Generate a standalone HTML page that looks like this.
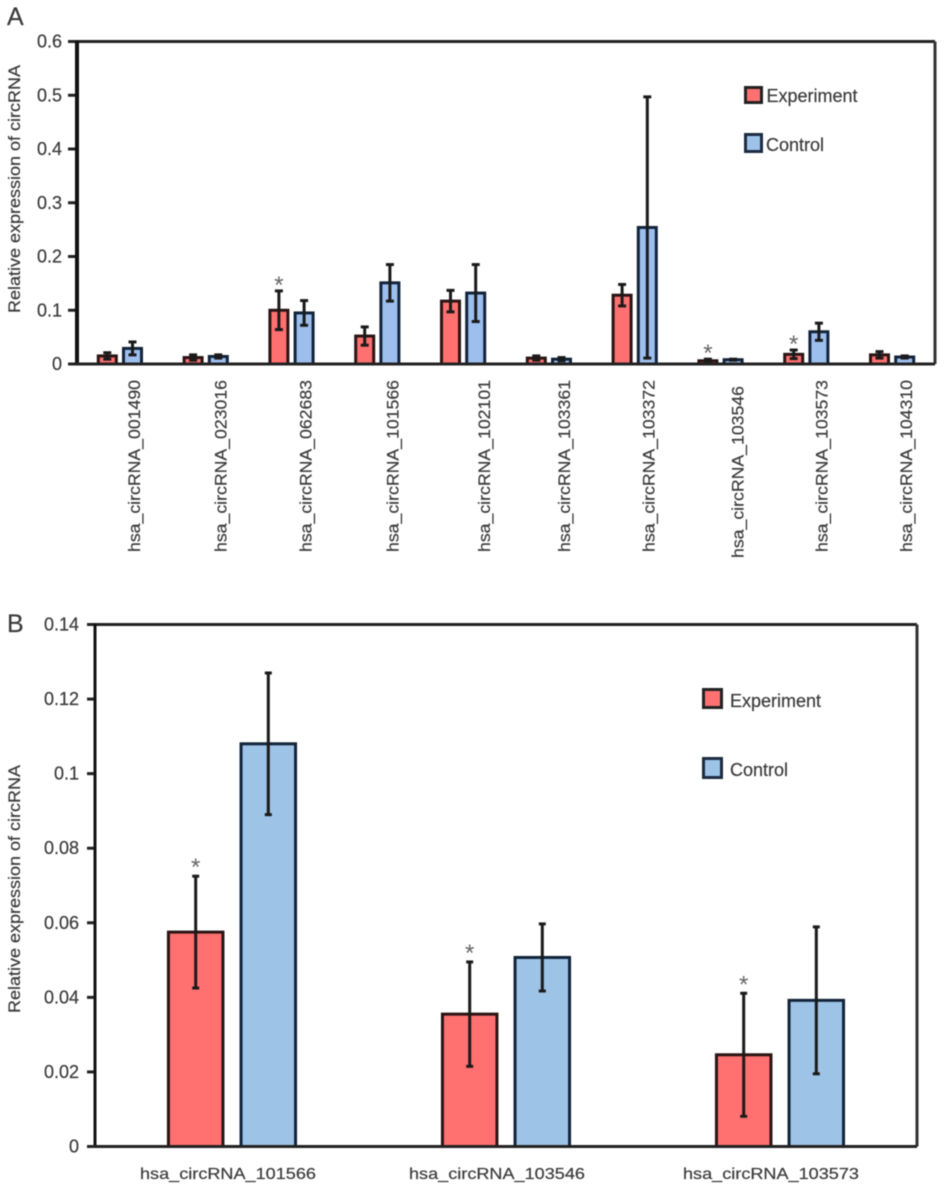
<!DOCTYPE html>
<html lang="en">
<head>
<meta charset="utf-8">
<title>Relative expression of circRNA</title>
<style>
html,body{margin:0;padding:0;background:#fff;width:945px;height:1191px;overflow:hidden}
svg{display:block;filter:blur(.55px)}
text{font-family:"Liberation Sans",sans-serif;fill:#3a3a3a;stroke:#3a3a3a;stroke-width:.2px}
</style>
</head>
<body>
<svg id="figure" xmlns="http://www.w3.org/2000/svg" width="945" height="1191" viewBox="0 0 945 1191">
  <text x="7" y="25" font-size="25">A</text>
  <text x="7" y="632" font-size="25">B</text>
  <text transform="translate(20,189) rotate(-90)" text-anchor="middle" font-size="17" textLength="248" lengthAdjust="spacingAndGlyphs">Relative expression of circRNA</text>
  <text transform="translate(20,889) rotate(-90)" text-anchor="middle" font-size="17" textLength="248" lengthAdjust="spacingAndGlyphs">Relative expression of circRNA</text>
  <g id="panel-a"></g>
  <g id="panel-b"></g>
  <g>
    <rect x="745.5" y="87.5" width="16" height="15" fill="#ff7070" stroke="#222" stroke-width="3"/>
    <text x="766.5" y="102" font-size="18">Experiment</text>
    <rect x="745.5" y="134.5" width="16" height="17" fill="#9dc3ea" stroke="#1c2c40" stroke-width="3"/>
    <text x="766" y="151" font-size="18">Control</text>
  </g>
  <g>
    <rect x="703.5" y="689.5" width="18" height="18" fill="#ff7070" stroke="#222" stroke-width="3"/>
    <text x="730" y="707" font-size="18">Experiment</text>
    <rect x="703.5" y="758.5" width="18" height="19" fill="#9dc3e6" stroke="#1c2c40" stroke-width="3"/>
    <text x="730" y="776" font-size="18">Control</text>
  </g>
</svg>
<script>
// Panel A data
const categoriesA = ['hsa_circRNA_001490','hsa_circRNA_023016','hsa_circRNA_062683','hsa_circRNA_101566','hsa_circRNA_102101','hsa_circRNA_103361','hsa_circRNA_103372','hsa_circRNA_103546','hsa_circRNA_103573','hsa_circRNA_104310'];
const experimentA = [0.015,0.012,0.100,0.052,0.117,0.011,0.128,0.006,0.018,0.017];
const controlA = [0.029,0.014,0.095,0.151,0.132,0.009,0.254,0.008,0.060,0.013];
const experimentErrA = [0.006,0.005,0.036,0.017,0.020,0.004,0.020,0.003,0.008,0.006];
const controlErrA = [0.012,0.003,0.023,0.034,0.053,0.003,0.243,0.001,0.016,0.002];
const significantA = [false,false,true,false,false,false,false,true,true,false];
const ticksA = [0,0.1,0.2,0.3,0.4,0.5,0.6];
const tickLabelsA = ['0','0.1','0.2','0.3','0.4','0.5','0.6'];

// Panel B data
const categoriesB = ['hsa_circRNA_101566','hsa_circRNA_103546','hsa_circRNA_103573'];
const experimentB = [0.0575,0.0355,0.0246];
const controlB = [0.108,0.0507,0.0392];
const experimentErrB = [0.015,0.014,0.0165];
const controlErrB = [0.019,0.009,0.0197];
const significantB = [true,true,true];
const ticksB = [0,0.02,0.04,0.06,0.08,0.1,0.12,0.14];
const tickLabelsB = ['0','0.02','0.04','0.06','0.08','0.1','0.12','0.14'];

const NS = 'http://www.w3.org/2000/svg';

function mk(parent, tag, attrs, name, text) {
  const el = document.createElementNS(NS, tag);
  for (const k in attrs) el.setAttribute(k, attrs[k]);
  
  
  if (text !== undefined) el.textContent = text;
  parent.appendChild(el);
  return el;
}

function rotatedLabelShift(name) {
  const tail = name.slice(-6);
  if (tail === '102101') return 21;
  if (tail === '103546') return 17;
  if (tail === '103573') return 15;
  if (tail === '023016' || tail === '101566' || tail === '103361') return 15;
  if (tail === '062683' || tail === '103372') return 14;
  return 14;
}

function drawChart(g, o) {
  const x0 = o.left, x1 = o.right, yTop = o.top, yBot = o.bottom;
  const yScale = v => yBot - (v / o.max) * (yBot - yTop);
  const band = (x1 - x0) / o.categories.length;
  const xScale = i => x0 + band * (i + 0.5);
  const ink = '#222';

  // frame
  mk(g, 'line', {x1:x0,x2:x1,y1:yTop,y2:yTop,stroke:ink,'stroke-width':o.frameW}, 'top-border');
  mk(g, 'line', {x1:x1,x2:x1,y1:yTop,y2:yBot,stroke:'#333','stroke-width':o.frameW}, 'right-border');

  // ticks and labels
  o.ticks.forEach((t, i) => {
    const y = yScale(t);
    mk(g, 'line', {x1:x0-o.tickLen,x2:x0,y1:y,y2:y,stroke:ink,'stroke-width':o.frameW}, 'y-tick');
    mk(g, 'text', {x:o.tickLabelX,y:y+6,'text-anchor':'end','font-size':o.tickFont}, 'y-tick-label', o.tickLabels[i]);
  });

  // bars + error bars + stars
  const series = [
    {vals:o.experiment, errs:o.experimentErr, fill:o.red, stroke:'#2a1414', off:-o.offset, key:'experiment'},
    {vals:o.control, errs:o.controlErr, fill:o.blue, stroke:'#12233a', off:o.offset, key:'control'}
  ];
  series.forEach(s => {
    s.vals.forEach((v, i) => {
      const cx = xScale(i) + s.off;
      const y = yScale(v);
      mk(g, 'rect', {x:cx-o.barW/2,y:y,width:o.barW,height:yBot-y,fill:s.fill,stroke:s.stroke,'stroke-width':o.barStroke}, 'bar-' + s.key);
      const hi = yScale(v + s.errs[i]);
      const lo = yScale(v - s.errs[i]);
      mk(g, 'line', {x1:cx,x2:cx,y1:hi,y2:lo,stroke:'#1a1a1a','stroke-width':o.errW}, 'error-bar-' + s.key);
      mk(g, 'line', {x1:cx-o.cap,x2:cx+o.cap,y1:hi,y2:hi,stroke:'#1a1a1a','stroke-width':o.errW}, 'error-cap-upper');
      mk(g, 'line', {x1:cx-o.cap,x2:cx+o.cap,y1:lo,y2:lo,stroke:'#1a1a1a','stroke-width':o.errW}, 'error-cap-lower');
      if (s.key === 'experiment' && o.significant[i]) {
        mk(g, 'text', {x:cx,y:hi+o.starDy,'text-anchor':'middle','font-size':24,style:'fill:#666;stroke:none'}, 'significance-star', '*');
      }
    });
  });

  // axes on top
  mk(g, 'line', {x1:x0,x2:x0,y1:yTop-1,y2:yBot+1,stroke:'#111','stroke-width':o.leftW}, 'y-axis-line');
  mk(g, 'line', {x1:x0-o.tickLen,x2:x1,y1:yBot,y2:yBot,stroke:ink,'stroke-width':o.frameW}, 'x-axis-line');

  // category labels
  o.categories.forEach((c, i) => {
    if (o.rotated) {
      const drop = c === 'hsa_circRNA_103546' ? 6 : 0;
      mk(g, 'text', {transform:'translate(' + (xScale(i)+rotatedLabelShift(c)+6) + ',' + (552+drop) + ') rotate(-90)','font-size':16.5,textLength:172,lengthAdjust:'spacingAndGlyphs'}, 'x-tick-label', c);
    } else {
      const shift = i === 0 ? -4 : -9;
      mk(g, 'text', {x:xScale(i)+shift,y:o.catY,'text-anchor':'middle','font-size':16,textLength:176,lengthAdjust:'spacingAndGlyphs'}, 'x-tick-label', c);
    }
  });
}

drawChart(document.getElementById('panel-a'), {
  left:77,right:935,top:41.5,bottom:364,max:0.6,
  categories:categoriesA,experiment:experimentA,control:controlA,
  experimentErr:experimentErrA,controlErr:controlErrA,significant:significantA,
  ticks:ticksA,tickLabels:tickLabelsA,
  tickLen:9,tickLabelX:62,tickFont:18,frameW:3,leftW:4,
  barW:18,offset:12.6,barStroke:3,errW:3,cap:4,starDy:2,
  red:'#ff7070',blue:'#9dbfee',rotated:true
});

drawChart(document.getElementById('panel-b'), {
  left:95,right:917,top:624.5,bottom:1146.5,max:0.14,
  categories:categoriesB,experiment:experimentB,control:controlB,
  experimentErr:experimentErrB,controlErr:controlErrB,significant:significantB,
  ticks:ticksB,tickLabels:tickLabelsB,
  tickLen:8,tickLabelX:79,tickFont:18,frameW:3,leftW:3,
  barW:54.5,offset:36.3,barStroke:3,errW:3,cap:3.5,starDy:-1,
  red:'#ff7070',blue:'#9dc3e6',rotated:false,catY:1179
});
</script>
</body>
</html>
